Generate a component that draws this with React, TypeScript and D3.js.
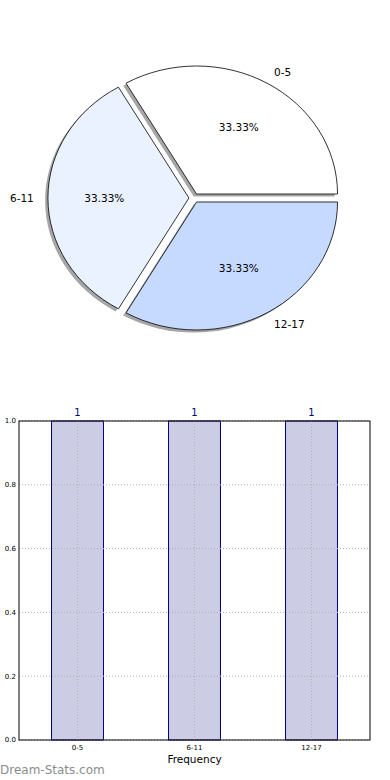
import React from "react";
import * as d3 from "d3";

// age groups and how many fall into each
const categories = ["0-5", "6-11", "12-17"];
const counts = [1, 1, 1];
const sliceColors = ["#ffffff", "#ebf2ff", "#c6daff"];
const yTicks = [0, 0.2, 0.4, 0.6, 0.8, 1.0];

const W = 390;
const H = 780;
const FONT = "'DejaVu Sans', sans-serif";

// pie geometry (ellipse, because the axes were not square)
const cx = 194;
const cy = 198;
const rx = 141;
const ry = 128;
const explode = 0.036;

// bar chart frame
const bx0 = 19;
const bx1 = 370;
const by0 = 421;
const by1 = 740;

const Pie = () => {
  const total = d3.sum(counts);
  // matplotlib starts at 3 o'clock and goes counter-clockwise
  const pie = d3
    .pie<number>()
    .sort(null)
    .startAngle(Math.PI / 2)
    .endAngle(Math.PI / 2 - 2 * Math.PI);
  const arcs = pie(counts);
  const arc = d3.arc<d3.PieArcDatum<number>>().innerRadius(0).outerRadius(1);
  const pct = d3.format(".2f");

  return (
    <g>
      {arcs.map((a, i) => {
        const mid = (a.startAngle + a.endAngle) / 2;
        const ux = Math.sin(mid);
        const uy = -Math.cos(mid);
        const sx = cx + explode * rx * ux;
        const sy = cy + explode * ry * uy;
        return (
          <g key={"s" + i}>
            <path
              d={arc(a) || ""}
              transform={`translate(${sx - 0.02 * rx},${sy + 0.02 * ry}) scale(${rx},${ry})`}
              fill="#4d4d4d"
              opacity={0.5}
            />
          </g>
        );
      })}
      {arcs.map((a, i) => {
        const mid = (a.startAngle + a.endAngle) / 2;
        const ux = Math.sin(mid);
        const uy = -Math.cos(mid);
        const sx = cx + explode * rx * ux;
        const sy = cy + explode * ry * uy;
        const lx = sx + 1.1 * rx * ux;
        const ly = sy + 1.1 * ry * uy;
        const px = sx + 0.6 * rx * ux;
        const py = sy + 0.6 * ry * uy;
        return (
          <g key={"p" + i}>
            <path
              d={arc(a) || ""}
              transform={`translate(${sx},${sy}) scale(${rx},${ry})`}
              fill={sliceColors[i]}
              stroke="#000"
              strokeWidth={0.8}
              vectorEffect="non-scaling-stroke"
            />
            <text
              x={lx}
              y={ly}
              dy="0.35em"
              textAnchor={ux > 0.01 ? "start" : ux < -0.01 ? "end" : "middle"}
              fontSize={10.5}
              fontFamily={FONT}
            >
              {categories[i]}
            </text>
            <text x={px} y={py} dy="0.35em" textAnchor="middle" fontSize={10.5} fontFamily={FONT}>
              {pct((a.value / total) * 100) + "%"}
            </text>
          </g>
        );
      })}
    </g>
  );
};

const Bars = () => {
  const x = d3
    .scaleBand<string>()
    .domain(categories)
    .range([bx0, bx1])
    .paddingInner(0.556)
    .paddingOuter(0.278);
  const y = d3.scaleLinear().domain([0, 1]).range([by1, by0]);
  const fmt = d3.format(".1f");
  const gridColor = "#b0b0b0";

  return (
    <g fontFamily={FONT}>
      {categories.map((c, i) => (
        <rect
          key={"b" + c}
          x={x(c)}
          y={y(counts[i])}
          width={x.bandwidth()}
          height={y(0) - y(counts[i])}
          fill="#ccccE5"
          stroke="#000080"
          strokeWidth={1}
        />
      ))}
      {yTicks.map((t) => (
        <g key={"y" + t}>
          <line x1={bx0} x2={bx1} y1={y(t)} y2={y(t)} stroke={gridColor} strokeDasharray="1,2" />
          <text x={bx0 - 3} y={y(t)} dy="0.35em" textAnchor="end" fontSize={7}>
            {fmt(t)}
          </text>
        </g>
      ))}
      {categories.map((c) => {
        const xc = (x(c) || 0) + x.bandwidth() / 2;
        return (
          <g key={"x" + c}>
            <line x1={xc} x2={xc} y1={by0} y2={by1} stroke={gridColor} strokeDasharray="1,2" />
            <text x={xc} y={by1 + 10} textAnchor="middle" fontSize={7}>
              {c}
            </text>
          </g>
        );
      })}
      {categories.map((c, i) => (
        <text
          key={"v" + c}
          x={(x(c) || 0) + x.bandwidth() / 2}
          y={y(counts[i]) - 5}
          textAnchor="middle"
          fontSize={10}
          fill="#000080"
        >
          {counts[i]}
        </text>
      ))}
      <rect x={bx0} y={by0} width={bx1 - bx0} height={by1 - by0} fill="none" stroke="#000" strokeWidth={1} />
      <text x={(bx0 + bx1) / 2} y={by1 + 23} textAnchor="middle" fontSize={10.5}>
        Frequency
      </text>
    </g>
  );
};

const App = () => {
  return (
    <div>
      <style>{`body{margin:0}`}</style>
      <svg width={W} height={H} style={{ display: "block", background: "#fff" }}>
        <Pie />
        <Bars />
        <text x={0} y={774} fontSize={12} fontFamily={FONT} fill="#8c8c8c">
          Dream-Stats.com
        </text>
      </svg>
    </div>
  );
};

export default App;
